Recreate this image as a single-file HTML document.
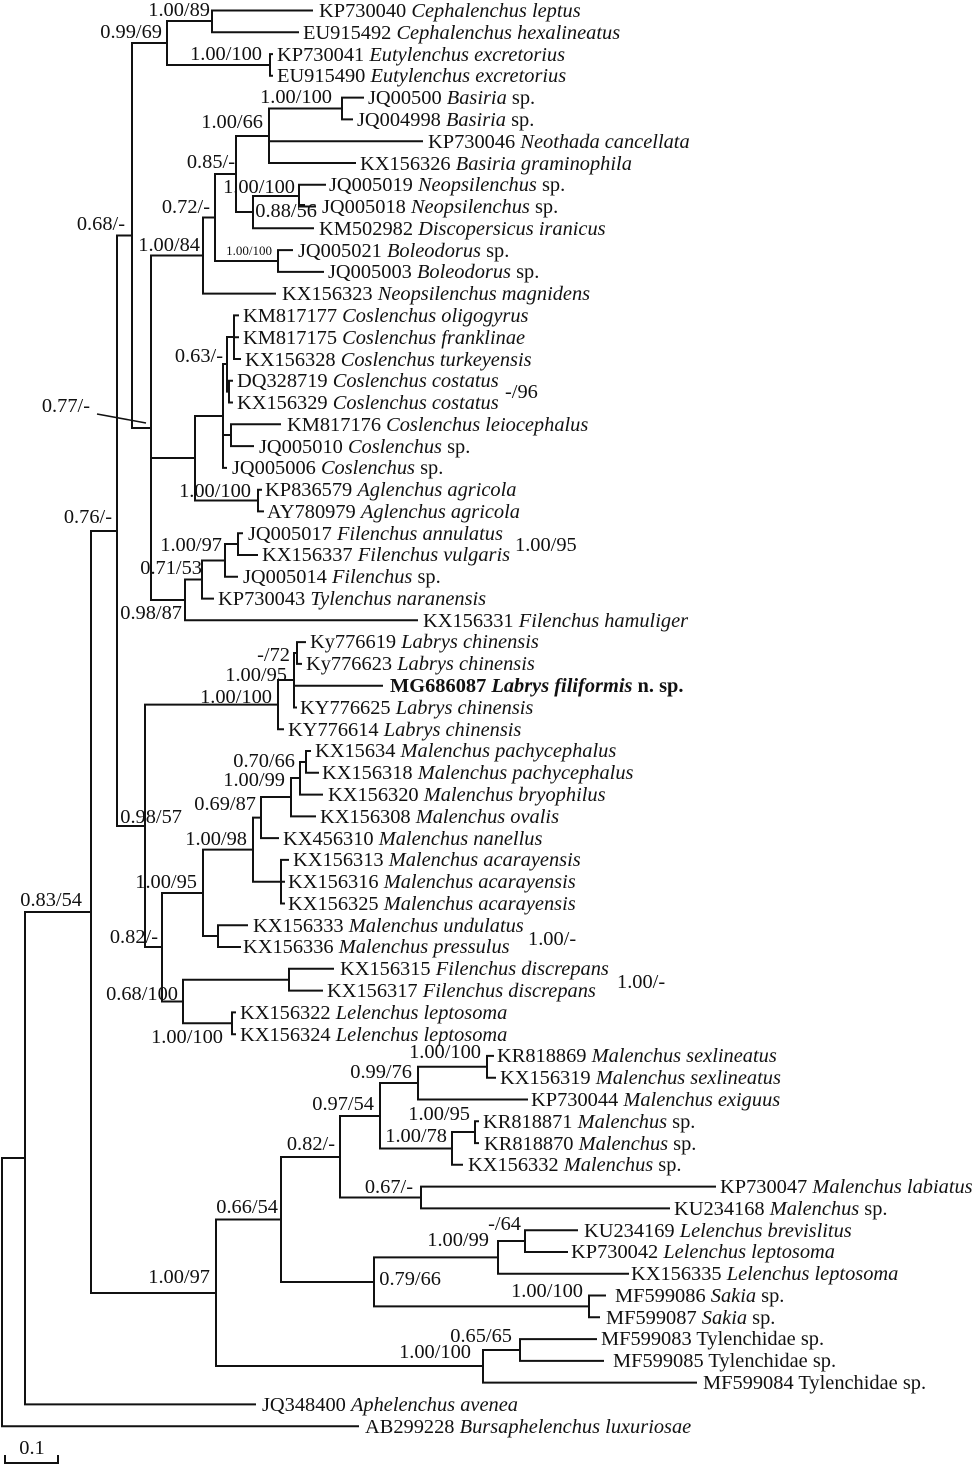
<!DOCTYPE html>
<html><head><meta charset="utf-8"><style>
html,body{margin:0;padding:0;background:#fff;}
svg{display:block;}
text{font-family:"Liberation Serif","Times New Roman",serif;font-size:20.4px;fill:#111;}
.i{font-style:italic;}
.s{font-size:13px;}
</style></head><body>
<svg width="973" height="1467" viewBox="0 0 973 1467" xmlns="http://www.w3.org/2000/svg">
<path fill="none" stroke="#111" stroke-width="2" stroke-linecap="square" d="
M212 10.5V32.3 M270 54.1V75.8 M167 21V65 M342 97.6V119.4 M269 108.5V163 M299 184.7V206.5 M253 196V228.3 M236 136V212 M278 250.1V271.9 M215 174V261 M203 217.5V293.6
M234 315.4V359 M229 380.8V402.5 M227 337V391.6 M231 424.3V446.1 M223 364V467.9 M258 489.7V511.4 M195 416V500.5 M238 533.2V555 M225 544V576.8 M202 560.5V598.6 M185 579.5V620.3
M151 255.5V600 M132 43V428 M117 235.5V826
M297 642.1V663.9 M294 653V707.5 M278 680V729.2 M306 751V772.8 M300 762V794.6 M291 778V816.4 M261 797V838.1 M281 859.9V903.5 M253 817.6V881.7 M218 925.3V947 M203 849.6V936
M289 968.8V990.6 M232 1012.4V1034.2 M183 979.7V1023.3 M162 893V1001.5 M145 704.6V947
M487 1055.9V1077.7 M418 1066.8V1099.5 M475 1121.3V1143.1 M452 1132V1164.8 M380 1083V1148.5 M421 1186.6V1208.4 M340 1116V1197.5
M525 1230.2V1252 M498 1241V1273.7 M589 1295.5V1317.3 M374 1257.4V1306.4 M281 1157V1282 M520 1339.1V1360.9 M483 1350V1382.6 M216 1219.5V1366
M91 531V1293 M25 912V1404.4 M2 1158V1426.2
M212 10.5H312 M212 32.3H298 M270 54.1H272 M270 75.8H272 M167 21H212 M167 65H270
M342 97.6H363 M342 119.4H352 M269 108.5H342 M269 141.2H422 M269 163H355
M299 184.7H325 M299 206.5H315 M253 196H299 M253 228.3H313 M236 136H269 M236 212H253
M278 250.1H292 M278 271.9H323 M215 174H236 M215 261H278 M203 217.5H215 M203 293.6H275
M234 315.4H238 M234 337.2H238 M234 359H240 M229 380.8H232 M229 402.5H232 M227 337H234 M227 391.6H229
M231 424.3H280 M231 446.1H253 M223 364H227 M223 435H231 M223 467.9H226
M258 489.7H261 M258 511.4H263 M195 416H223 M195 500.5H258
M238 533.2H242 M238 555H257 M225 544H238 M225 576.8H237 M202 560.5H225 M202 598.6H213 M185 579.5H202 M185 620.3H417
M151 255.5H203 M151 458H195 M151 600H185 M132 43H167 M132 428H151 M117 235.5H132 M117 826H145
M297 642.1H305 M297 663.9H301 M294 653H297 M294 685.7H382 M294 707.5H296 M278 680H294 M278 729.2H283
M306 751H310 M306 772.8H318 M300 762H306 M300 794.6H322 M291 778H300 M291 816.4H315 M261 797H291 M261 838.1H278
M281 859.9H288 M281 881.7H284 M281 903.5H284 M253 817.6H261 M253 881.7H281
M218 925.3H247 M218 947H240 M203 849.6H253 M203 936H218
M289 968.8H333 M289 990.6H322 M232 1012.4H235 M232 1034.2H235 M183 979.7H289 M183 1023.3H232
M162 893H203 M162 1001.5H183 M145 704.6H278 M145 947H162
M487 1055.9H493 M487 1077.7H495 M418 1066.8H487 M418 1099.5H527
M475 1121.3H478 M475 1143.1H478 M452 1132H475 M452 1164.8H462 M380 1083H418 M380 1148.5H452
M421 1186.6H715 M421 1208.4H669 M340 1116H380 M340 1197.5H421
M525 1230.2H577 M525 1252H567 M498 1241H525 M498 1273.7H628
M589 1295.5H605 M589 1317.3H599 M374 1257.4H498 M374 1306.4H589 M281 1157H340 M281 1282H374
M520 1339.1H596 M520 1360.9H603 M483 1350H520 M483 1382.6H696 M216 1219.5H281 M216 1366H483
M91 531H117 M91 1293H216 M25 912H91 M25 1404.4H255 M2 1158H25 M2 1426.2H358
M5 1463H58 M5 1456V1463 M58 1456V1463"/>
<path d="M97 414L146 423" stroke="#111" stroke-width="1.5"/>

<text x="319" y="17">KP730040 <tspan class="i">Cephalenchus leptus</tspan></text>
<text x="303" y="39">EU915492 <tspan class="i">Cephalenchus hexalineatus</tspan></text>
<text x="277" y="61">KP730041 <tspan class="i">Eutylenchus excretorius</tspan></text>
<text x="277" y="82">EU915490 <tspan class="i">Eutylenchus excretorius</tspan></text>
<text x="368" y="104">JQ00500 <tspan class="i">Basiria</tspan> sp.</text>
<text x="357" y="126">JQ004998 <tspan class="i">Basiria</tspan> sp.</text>
<text x="428" y="148">KP730046 <tspan class="i">Neothada cancellata</tspan></text>
<text x="360" y="170">KX156326 <tspan class="i">Basiria graminophila</tspan></text>
<text x="329" y="191">JQ005019 <tspan class="i">Neopsilenchus</tspan> sp.</text>
<text x="322" y="213">JQ005018 <tspan class="i">Neopsilenchus</tspan> sp.</text>
<text x="319" y="235">KM502982 <tspan class="i">Discopersicus iranicus</tspan></text>
<text x="298" y="257">JQ005021 <tspan class="i">Boleodorus</tspan> sp.</text>
<text x="328" y="278">JQ005003 <tspan class="i">Boleodorus</tspan> sp.</text>
<text x="282" y="300">KX156323 <tspan class="i">Neopsilenchus magnidens</tspan></text>
<text x="243" y="322">KM817177 <tspan class="i">Coslenchus oligogyrus</tspan></text>
<text x="243" y="344">KM817175 <tspan class="i">Coslenchus  franklinae</tspan></text>
<text x="245" y="366">KX156328 <tspan class="i">Coslenchus turkeyensis</tspan></text>
<text x="237" y="387">DQ328719 <tspan class="i">Coslenchus costatus</tspan></text>
<text x="237" y="409">KX156329 <tspan class="i">Coslenchus costatus</tspan></text>
<text x="287" y="431">KM817176 <tspan class="i">Coslenchus leiocephalus</tspan></text>
<text x="259" y="453">JQ005010 <tspan class="i">Coslenchus</tspan> sp.</text>
<text x="232" y="474">JQ005006 <tspan class="i">Coslenchus</tspan> sp.</text>
<text x="265" y="496">KP836579 <tspan class="i">Aglenchus agricola</tspan></text>
<text x="267" y="518">AY780979 <tspan class="i">Aglenchus agricola</tspan></text>
<text x="248" y="540">JQ005017 <tspan class="i">Filenchus annulatus</tspan></text>
<text x="262" y="561">KX156337 <tspan class="i">Filenchus vulgaris</tspan></text>
<text x="243" y="583">JQ005014 <tspan class="i">Filenchus</tspan> sp.</text>
<text x="218" y="605">KP730043 <tspan class="i">Tylenchus naranensis</tspan></text>
<text x="423" y="627">KX156331 <tspan class="i">Filenchus hamuliger</tspan></text>
<text x="310" y="648">Ky776619 <tspan class="i">Labrys chinensis</tspan></text>
<text x="306" y="670">Ky776623 <tspan class="i">Labrys chinensis</tspan></text>
<text x="390" y="692" font-weight="bold">MG686087 <tspan class="i">Labrys filiformis</tspan> n. sp.</text>
<text x="300" y="714">KY776625 <tspan class="i">Labrys chinensis</tspan></text>
<text x="288" y="736">KY776614 <tspan class="i">Labrys chinensis</tspan></text>
<text x="315" y="757">KX15634 <tspan class="i">Malenchus pachycephalus</tspan></text>
<text x="322" y="779">KX156318 <tspan class="i">Malenchus pachycephalus</tspan></text>
<text x="328" y="801">KX156320 <tspan class="i">Malenchus bryophilus</tspan></text>
<text x="320" y="823">KX156308 <tspan class="i">Malenchus ovalis</tspan></text>
<text x="283" y="845">KX456310 <tspan class="i">Malenchus nanellus</tspan></text>
<text x="293" y="866">KX156313 <tspan class="i">Malenchus acarayensis</tspan></text>
<text x="288" y="888">KX156316 <tspan class="i">Malenchus acarayensis</tspan></text>
<text x="288" y="910">KX156325 <tspan class="i">Malenchus acarayensis</tspan></text>
<text x="253" y="932">KX156333 <tspan class="i">Malenchus undulatus</tspan></text>
<text x="243" y="953">KX156336 <tspan class="i">Malenchus pressulus</tspan></text>
<text x="340" y="975">KX156315 <tspan class="i">Filenchus discrepans</tspan></text>
<text x="327" y="997">KX156317 <tspan class="i">Filenchus discrepans</tspan></text>
<text x="240" y="1019">KX156322 <tspan class="i">Lelenchus leptosoma</tspan></text>
<text x="240" y="1041">KX156324 <tspan class="i">Lelenchus leptosoma</tspan></text>
<text x="497" y="1062">KR818869 <tspan class="i">Malenchus sexlineatus</tspan></text>
<text x="500" y="1084">KX156319 <tspan class="i">Malenchus sexlineatus</tspan></text>
<text x="531" y="1106">KP730044 <tspan class="i">Malenchus exiguus</tspan></text>
<text x="483" y="1128">KR818871 <tspan class="i">Malenchus</tspan> sp.</text>
<text x="484" y="1150">KR818870 <tspan class="i">Malenchus</tspan> sp.</text>
<text x="468" y="1171">KX156332 <tspan class="i">Malenchus</tspan> sp.</text>
<text x="720" y="1193">KP730047 <tspan class="i">Malenchus labiatus</tspan></text>
<text x="674" y="1215">KU234168 <tspan class="i">Malenchus</tspan> sp.</text>
<text x="584" y="1237">KU234169 <tspan class="i">Lelenchus brevislitus</tspan></text>
<text x="571" y="1258">KP730042 <tspan class="i">Lelenchus leptosoma</tspan></text>
<text x="631" y="1280">KX156335 <tspan class="i">Lelenchus leptosoma</tspan></text>
<text x="615" y="1302">MF599086 <tspan class="i">Sakia</tspan> sp.</text>
<text x="606" y="1324">MF599087 <tspan class="i">Sakia</tspan> sp.</text>
<text x="601" y="1345">MF599083 Tylenchidae sp.</text>
<text x="613" y="1367">MF599085 Tylenchidae sp.</text>
<text x="703" y="1389">MF599084 Tylenchidae sp.</text>
<text x="262" y="1411">JQ348400 <tspan class="i">Aphelenchus avenea</tspan></text>
<text x="365" y="1433">AB299228 <tspan class="i">Bursaphelenchus luxuriosae</tspan></text>

<g text-anchor="end">
<text x="210" y="16">1.00/89</text>
<text x="162" y="38">0.99/69</text>
<text x="262" y="60">1.00/100</text>
<text x="332" y="103">1.00/100</text>
<text x="263" y="128">1.00/66</text>
<text x="235" y="168">0.85/-</text>
<text x="295" y="193">1.00/100</text>
<text x="317" y="217">0.88/56</text>
<text x="210" y="213">0.72/-</text>
<text x="125" y="230">0.68/-</text>
<text x="200" y="251">1.00/84</text>
<text x="272" y="255" class="s">1.00/100</text>
<text x="223" y="362">0.63/-</text>
<text x="90" y="412">0.77/-</text>
<text x="251" y="497">1.00/100</text>
<text x="112" y="523">0.76/-</text>
<text x="222" y="551">1.00/97</text>
<text x="202" y="574">0.71/53</text>
<text x="182" y="619">0.98/87</text>
<text x="290" y="661">-/72</text>
<text x="287" y="681">1.00/95</text>
<text x="272" y="703">1.00/100</text>
<text x="295" y="767">0.70/66</text>
<text x="285" y="786">1.00/99</text>
<text x="256" y="810">0.69/87</text>
<text x="182" y="823">0.98/57</text>
<text x="247" y="845">1.00/98</text>
<text x="197" y="888">1.00/95</text>
<text x="82" y="906">0.83/54</text>
<text x="158" y="943">0.82/-</text>
<text x="178" y="1000">0.68/100</text>
<text x="223" y="1043">1.00/100</text>
<text x="481" y="1058">1.00/100</text>
<text x="412" y="1078">0.99/76</text>
<text x="374" y="1110">0.97/54</text>
<text x="470" y="1120">1.00/95</text>
<text x="447" y="1142">1.00/78</text>
<text x="335" y="1150">0.82/-</text>
<text x="413" y="1193">0.67/-</text>
<text x="278" y="1213">0.66/54</text>
<text x="521" y="1230">-/64</text>
<text x="489" y="1246">1.00/99</text>
<text x="210" y="1283">1.00/97</text>
<text x="441" y="1285">0.79/66</text>
<text x="583" y="1297">1.00/100</text>
<text x="512" y="1342">0.65/65</text>
<text x="471" y="1358">1.00/100</text>
</g>
<text x="505" y="398">-/96</text>
<text x="515" y="551">1.00/95</text>
<text x="528" y="945">1.00/-</text>
<text x="617" y="988">1.00/-</text>
<text x="32" y="1454" text-anchor="middle">0.1</text>
</svg>
</body></html>
